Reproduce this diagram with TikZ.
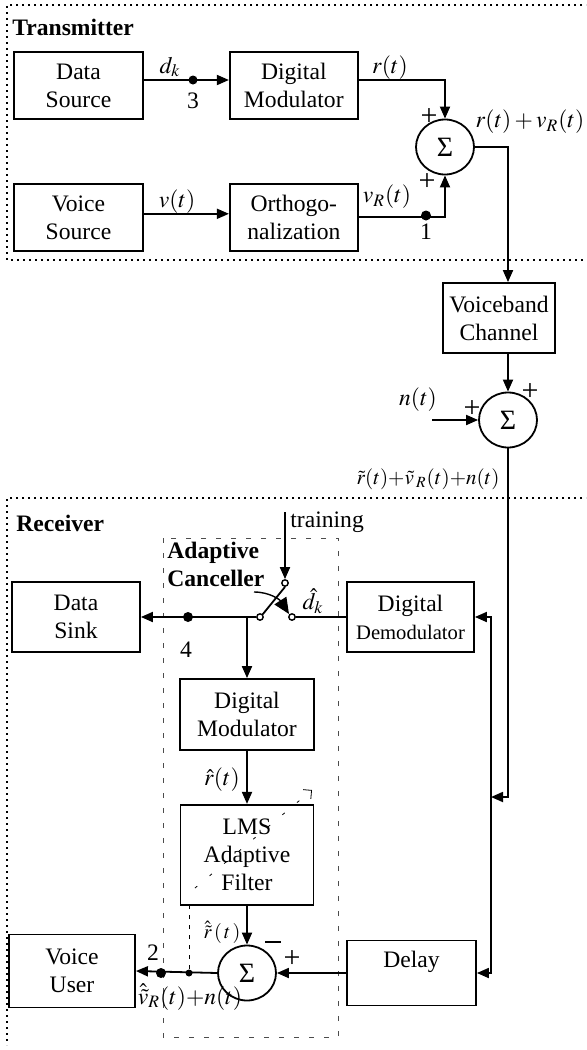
\documentclass[tikz,border=0pt]{standalone}
\usepackage{mathptmx}
\usepackage[no-math]{fontspec}
\setmainfont{Liberation Serif}
\usepackage{tikz}
\usetikzlibrary{arrows.meta,positioning,shapes.geometric}

\begin{document}
\begin{tikzpicture}[
    x=0.5pt, y=-0.5pt,
    font=\fontsize{11.8}{14}\selectfont,
    box/.style={draw, line width=0.9pt, minimum width=64pt, minimum height=33.5pt, align=center, inner sep=1pt},
    sumnode/.style={draw, ellipse, line width=0.9pt, minimum width=29pt, minimum height=27.5pt, inner sep=0pt, font=\fontsize{14}{14}\selectfont},
    arr/.style={-{Triangle[length=6pt,width=5pt]}, line width=0.9pt},
    wire/.style={line width=0.9pt},
    frame/.style={dotted, line width=1pt},
    cframe/.style={dash pattern=on 2.5pt off 5pt, line width=0.5pt, black!70},
    dot/.style={circle, fill, inner sep=0pt, minimum size=5pt},
    contact/.style={circle, draw, fill=white, inner sep=0pt, minimum size=3.2pt, line width=0.7pt},
    lbl/.style={inner sep=1pt},
    sgn/.style={inner sep=0pt, font=\fontsize{15}{15}\selectfont},
]
\useasboundingbox (0,0) rectangle (586,1050);
\clip (0,0) rectangle (586,1050);

% Frames
\draw[frame] (600,5) -- (7,5) -- (7,260) -- (600,260);
\draw[frame] (600,498) -- (7,498) -- (7,1045);
\draw[cframe] (163,538) rectangle (338,1037);
\node[lbl, anchor=west] (tx) at (10,27) {\textbf{Transmitter}};
\node[lbl, anchor=west] (rx) at (14,523) {\textbf{Receiver}};
\node[lbl, anchor=north west, align=left] (ac) at (165,540) {\textbf{Adaptive}\\\textbf{Canceller}};

% Transmitter nodes
\node[box, minimum width=64.5pt] (ds) at (78.5,85.5) {Data\\Source};
\node[box, right=42.5pt of ds] (dm) {Digital\\Modulator};
\node[box, minimum width=64.5pt, below=31.5pt of ds] (vs) {Voice\\Source};
\node[box, right=42.5pt of vs] (orth) {Orthogo-\\nalization};
\node[sumnode] (s1) at (445,147) {Σ};

% Channel
\node[box, minimum width=56pt, minimum height=35pt] (vc) at (499,318) {Voiceband\\Channel};
\node[sumnode] (s2) at (508,420) {Σ};
\coordinate (nin) at (432,420);

% Receiver nodes
\node[box, minimum width=63.5pt, minimum height=35pt] (dd) at (410.5,617) {Digital\\{\fontsize{10.3}{12}\selectfont Demodulator}};
\node[box, minimum height=35pt] (dsink) at (76,617) {Data\\Sink};
\node[box, minimum width=67pt, minimum height=35.5pt] (dm2) at (247,714.5) {Digital\\Modulator};
\node[box, minimum width=66.5pt, minimum height=50pt, below=26.5pt of dm2] (lms) {LMS\\Adaptive\\Filter};
\node[sumnode] (s3) at (247,973) {Σ};
\node[box, minimum width=63pt, minimum height=36.5pt] (vu) at (72,971) {Voice\\User};
\node[box, minimum width=64.5pt, minimum height=32.5pt] (dly) at (411.5,973) {Delay\\\mbox{}};
\coordinate (jn) at (491,797);
\coordinate (br) at (247,617);
\coordinate (tr) at (285,512);

% Switch
\node[contact] (cl) at (260,617) {};
\node[contact] (ct) at (285,583) {};
\node[contact] (cr) at (292,617) {};
\draw[wire] (cl.north east) -- (ct.south);
\draw[-{Triangle[length=8pt,width=7pt]}, line width=0.7pt] (254,592) .. controls (270,592) and (280,600) .. (289,614);

% Transmitter arrows
\draw[arr] ([yshift=2.75pt]ds.east) -- ([yshift=2.75pt]dm.west);
\node[dot, minimum size=4.5pt] (p3) at (193,80) {};
\draw[arr] ([yshift=2.75pt]dm.east) -| (s1.north);
\draw[arr] ([yshift=1.75pt]vs.east) -- ([yshift=1.75pt]orth.west);
\draw[arr] (orth.east) -| (s1.south);
\node[dot] (p1) at (426,215.5) {};
\draw[arr] (s1.east) -| ([xshift=4.5pt]vc.north);
\draw[arr] ([xshift=4.5pt]vc.south) -- (s2.north);
\draw[arr] (nin) -- (s2.west);

% Receiver arrows
\draw[arr] (s2.south) |- (jn);
\draw[arr] (jn) |- (dd.east);
\draw[arr] (jn) |- (dly.east);
\draw[wire] (dd.west) -- (cr);
\draw[arr] (tr) -- (ct.north);
\draw[arr] (cl) -- (dsink.east);
\node[dot] (p4) at (188,617) {};
\draw[arr] (br) -- (dm2.north);
\draw[arr] (dm2.south) -- (lms.north);
\draw[arr] (lms.south) -- (s3.north);
\draw[arr] (dly.west) -- (s3.east);
\draw[arr] (s3.west) -- (vu.east);
\node[dot] (p2) at (161,973) {};
\node[dot, minimum size=3.5pt] (pe) at (189,973) {};
\draw[dash pattern=on 2pt off 3pt, line width=0.4pt] (pe) -- (pe |- lms.south);
\draw[dash pattern=on 1.5pt off 8pt, line width=0.4pt, -{Straight Barb[length=3pt]}] (195,888) -- (312,790);

% Labels
\node[lbl] at (170,67) {$d_k$};
\node[lbl] at (193,101) {3};
\node[lbl] at (390,68) {$r(t)$};
\node[sgn] at (429,117) {+};
\node[sgn] at (427,182) {+};
\node[lbl] at (530,122) {$r(t) + v_R(t)$};
\node[lbl] at (177,202) {$v(t)$};
\node[lbl] at (387,197) {$v_R(t)$};
\node[lbl] at (426,232) {1};
\node[lbl] at (418,400) {$n(t)$};
\node[sgn] at (472,409) {+};
\node[sgn] at (530,392) {+};
\node[lbl, anchor=east, font=\fontsize{10.5}{12}\selectfont] at (502,479) {$\tilde{r}(t){+}\tilde{v}\,{}_R(t){+}n(t)$};
\node[lbl, anchor=west] at (288,522) {training};
\node[lbl] at (313,601) {$\hat{d}_k$};
\node[lbl] at (186,650) {4};
\node[lbl] at (222,780) {$\hat{r}(t)$};
\node[lbl, font=\fontsize{10}{12}\selectfont] at (222,932) {$\hat{\tilde{r}}\,(\,t\,)$};
\node[inner sep=0pt] at (273,942) {\rule{8pt}{1.4pt}};
\node[sgn] at (292,959) {+};
\node[lbl] at (153,953) {2};
\node[lbl] at (190,997) {$\hat{\tilde{v}}_R(t){+}n(t)$};
\end{tikzpicture}
\end{document}
